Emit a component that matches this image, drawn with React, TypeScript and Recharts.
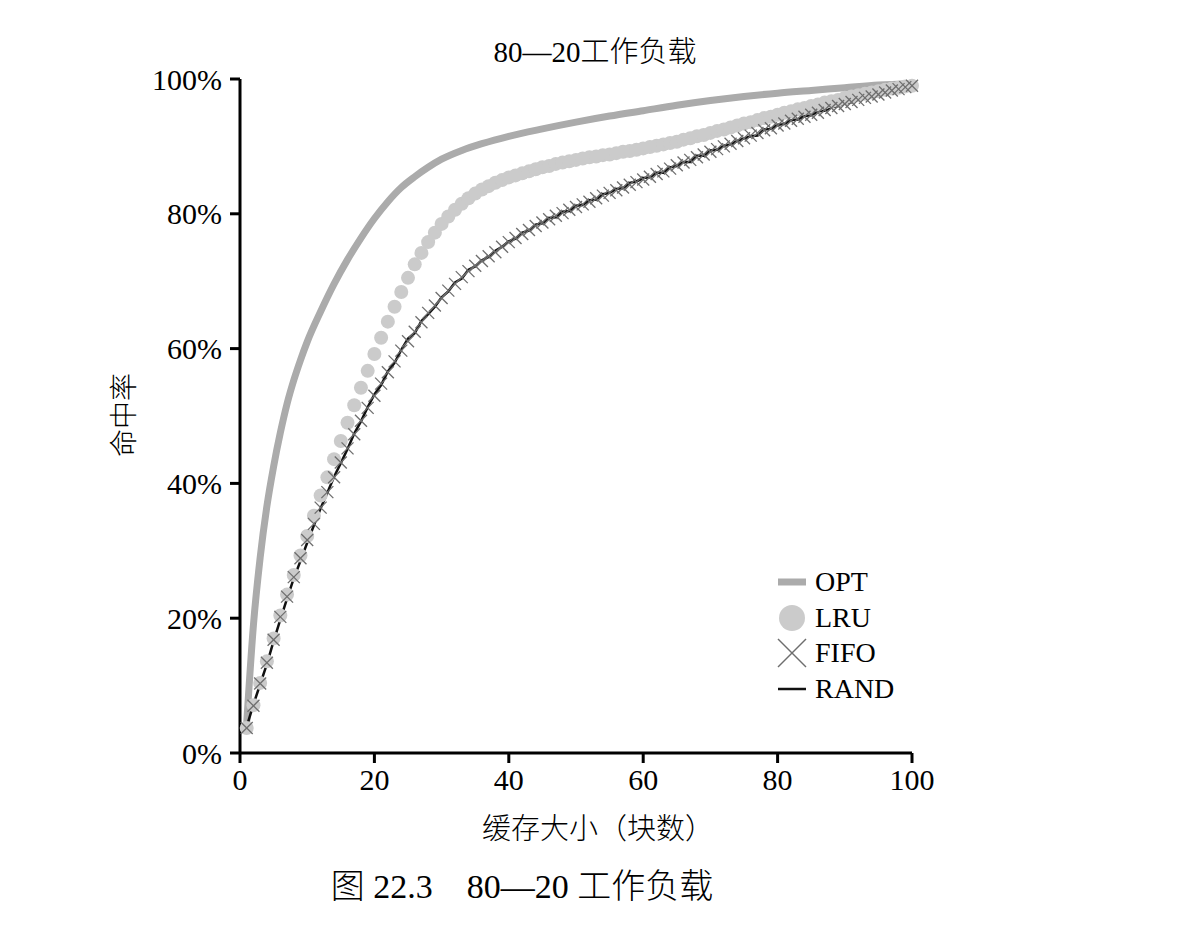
import React from 'react';
import { ComposedChart, Line, XAxis, YAxis } from 'recharts';

// cache size (blocks) 1..100
const cacheSizes = Array.from({ length: 100 }, (_, i) => i + 1);

const optSizes = [1, 2, 3, 4, 5, 6, 7, 8, 9, 10, 12, 14, 16, 18, 20, 22, 24, 26, 28, 30, 33, 36, 40, 45, 50, 55, 60, 65, 70, 75, 80, 85, 90, 95, 100];
const optHit = [4.5, 19, 29, 36.6, 42.5, 47.5, 51.8, 55.3, 58.3, 61, 65.5, 69.6, 73.2, 76.4, 79.3, 81.8, 83.9, 85.5, 86.9, 88.1, 89.4, 90.4, 91.5, 92.6, 93.6, 94.5, 95.3, 96.1, 96.8, 97.4, 97.9, 98.3, 98.7, 99.1, 99.3];

const lruHit = [
  3.7, 7.1, 10.4, 13.6, 17, 20.4, 23.5, 26.4, 29.3, 32.2,
  35.2, 38.2, 40.9, 43.6, 46.3, 49, 51.6, 54.2, 56.7, 59.2,
  61.6, 64, 66.2, 68.4, 70.5, 72.5, 74.2, 75.8, 77.2, 78.5,
  79.6, 80.6, 81.5, 82.3, 83, 83.6, 84.1, 84.6, 85, 85.4,
  85.7, 86, 86.3, 86.6, 86.9, 87.1, 87.4, 87.6, 87.8, 88,
  88.2, 88.4, 88.5, 88.7, 88.8, 89, 89.2, 89.3, 89.5, 89.7,
  89.9, 90.1, 90.3, 90.5, 90.7, 91, 91.2, 91.5, 91.7, 92,
  92.3, 92.5, 92.8, 93.1, 93.4, 93.6, 93.9, 94.2, 94.4, 94.7,
  95, 95.2, 95.5, 95.7, 96, 96.2, 96.5, 96.7, 96.9, 97.2,
  97.4, 97.6, 97.8, 98, 98.2, 98.4, 98.6, 98.7, 98.9, 99,
];

const fifoHit = [
  3.7, 7, 10.3, 13.4, 16.8, 20.2, 23.2, 26.1, 28.9, 31.6,
  34, 36.4, 38.7, 40.9, 43.1, 45.2, 47.3, 49.3, 51.2, 53,
  54.8, 56.5, 58.1, 59.7, 61.1, 62.5, 63.9, 65.3, 66.4, 67.5,
  68.6, 69.6, 70.6, 71.5, 72.3, 73, 73.7, 74.3, 75.1, 75.8,
  76.4, 77, 77.6, 78.2, 78.7, 79.2, 79.7, 80.1, 80.6, 81,
  81.4, 81.8, 82.3, 82.7, 83.1, 83.5, 83.9, 84.3, 84.7, 85.1,
  85.5, 85.9, 86.3, 86.7, 87.2, 87.6, 88, 88.4, 88.8, 89.2,
  89.6, 90, 90.4, 90.8, 91.2, 91.6, 92, 92.4, 92.7, 93.1,
  93.4, 93.8, 94.1, 94.4, 94.7, 95, 95.4, 95.7, 96, 96.3,
  96.6, 96.9, 97.2, 97.4, 97.7, 98, 98.3, 98.5, 98.8, 99,
];

const randHit = [
  3.9, 7.2, 10.2, 13.2, 16.6, 19.8, 22.9, 25.9, 28.5, 31.2,
  33.8, 36.3, 38.6, 41, 43, 45.1, 47.4, 49.2, 51.3, 53.2,
  54.6, 56.6, 57.9, 59.8, 61.5, 62.3, 64.1, 65.1, 66.2, 67.6,
  68.5, 69.8, 70.4, 71.7, 72.2, 73.1, 73.6, 74.5, 75.1, 75.9,
  76.3, 77.2, 77.5, 78.4, 78.6, 79.4, 79.5, 80.3, 80.4, 81.2,
  81.3, 82, 82.1, 82.9, 83.1, 83.7, 83.8, 84.6, 84.8, 85.3,
  85.4, 86.1, 86.1, 86.9, 87.1, 87.7, 87.7, 88.6, 88.6, 89.4,
  89.5, 90.1, 90.3, 90.8, 91.2, 91.5, 91.6, 92.5, 92.6, 93.2,
  93.3, 93.9, 94, 94.5, 94.6, 95.2, 95.3, 95.8, 96, 96.4,
  96.5, 97.1, 97.2, 97.5, 97.8, 98.1, 98.2, 98.6, 98.7, 99,
];

const xTicks = [0, 20, 40, 60, 80, 100];
const yTicks = [0, 20, 40, 60, 80, 100];

const seriesNames = ['OPT', 'LRU', 'FIFO', 'RAND'];

const FONT = "'Liberation Serif', 'Times New Roman', 'Noto Sans CJK SC', serif";
const OPT_COLOR = '#ababab';
const LRU_COLOR = '#cbcbcb';
const FIFO_COLOR = '#6e6e6e';
const RAND_COLOR = '#111111';

const data = cacheSizes.map((x, i) => {
  const k = optSizes.indexOf(x);
  return {
    x,
    opt: k >= 0 ? optHit[k] : undefined,
    lru: lruHit[i],
    fifo: fifoHit[i],
    rand: randHit[i],
  };
});

const Cross = (props: any) => {
  const { cx, cy, index } = props;
  if (cx == null || cy == null) return <g key={`c-${index}`} />;
  const s = 6;
  return (
    <g key={`c-${index}`}>
      <line x1={cx - s} y1={cy - s} x2={cx + s} y2={cy + s} stroke={FIFO_COLOR} strokeWidth={1.3} />
      <line x1={cx - s} y1={cy + s} x2={cx + s} y2={cy - s} stroke={FIFO_COLOR} strokeWidth={1.3} />
    </g>
  );
};

const LegendIcon = ({ name }: { name: string }) => {
  if (name === 'OPT') {
    return <svg width={30} height={30}><line x1={1} y1={15} x2={29} y2={15} stroke={OPT_COLOR} strokeWidth={7} /></svg>;
  }
  if (name === 'LRU') {
    return <svg width={30} height={30}><circle cx={15} cy={15} r={13} fill={LRU_COLOR} /></svg>;
  }
  if (name === 'FIFO') {
    return (
      <svg width={30} height={30}>
        <line x1={1} y1={1} x2={29} y2={29} stroke={FIFO_COLOR} strokeWidth={1.5} />
        <line x1={1} y1={29} x2={29} y2={1} stroke={FIFO_COLOR} strokeWidth={1.5} />
      </svg>
    );
  }
  return <svg width={30} height={30}><line x1={1} y1={15} x2={29} y2={15} stroke={RAND_COLOR} strokeWidth={2.5} /></svg>;
};

const ChartLegend = () => (
  <div style={{ position: 'absolute', left: 769, top: 556, fontFamily: FONT, fontSize: 28, color: '#000' }}>
    {seriesNames.map((name) => (
      <div key={name} style={{ display: 'flex', alignItems: 'center', height: 35.7 }}>
        <LegendIcon name={name} />
        <span style={{ marginLeft: 8, lineHeight: 1 }}>{name}</span>
      </div>
    ))}
  </div>
);

const App = () => {
  return (
    <div style={{ position: 'relative', width: 1166, height: 910, fontFamily: FONT }}>
      <div style={{ position: 'absolute', left: 587, top: 30, transform: 'translateX(-50%)', fontSize: 29, lineHeight: 1, whiteSpace: 'nowrap', fontWeight: 300 }}>
        80—20工作负载
      </div>

      <ComposedChart
        width={1166}
        height={860}
        data={data}
        margin={{ top: 71, right: 262, left: 152, bottom: 65 }}
      >
        <XAxis
          dataKey="x"
          type="number"
          domain={[0, 100]}
          ticks={xTicks}
          axisLine={{ stroke: '#000', strokeWidth: 3 }}
          tickLine={{ stroke: '#000', strokeWidth: 3 }}
          tickSize={10}
          tickMargin={6}
          height={50}
          tick={{ fill: '#000', fontSize: 30, fontFamily: FONT }}
        />
        <YAxis
          type="number"
          domain={[0, 100]}
          ticks={yTicks}
          tickFormatter={(v: number) => `${v}%`}
          axisLine={{ stroke: '#000', strokeWidth: 3 }}
          tickLine={{ stroke: '#000', strokeWidth: 3 }}
          tickSize={10}
          tickMargin={8}
          width={80}
          tick={{ fill: '#000', fontSize: 30, fontFamily: FONT }}
        />
        <Line
          dataKey="opt"
          name="OPT"
          type="monotone"
          connectNulls
          stroke={OPT_COLOR}
          strokeWidth={7}
          dot={false}
          isAnimationActive={false}
        />
        <Line
          dataKey="lru"
          name="LRU"
          stroke="none"
          dot={{ r: 7, fill: LRU_COLOR, stroke: 'none' }}
          isAnimationActive={false}
        />
        <Line
          dataKey="fifo"
          name="FIFO"
          stroke="none"
          dot={Cross}
          isAnimationActive={false}
        />
        <Line
          dataKey="rand"
          name="RAND"
          type="linear"
          stroke={RAND_COLOR}
          strokeWidth={2.5}
          dot={false}
          isAnimationActive={false}
        />
      </ComposedChart>

      <ChartLegend />

      <div style={{ position: 'absolute', left: 590, top: 807, transform: 'translateX(-50%)', fontSize: 29, lineHeight: 1, whiteSpace: 'nowrap', fontWeight: 300 }}>
        缓存大小（块数）
      </div>
      <div style={{ position: 'absolute', left: 117, top: 407, transform: 'translate(-50%, -50%) rotate(-90deg)', fontSize: 28, lineHeight: 1, whiteSpace: 'nowrap', fontWeight: 300 }}>
        命中率
      </div>
      <div style={{ position: 'absolute', left: 514, top: 862, transform: 'translateX(-50%)', fontSize: 34, lineHeight: 1, whiteSpace: 'nowrap', fontWeight: 300 }}>
        图 22.3　80—20 工作负载
      </div>
    </div>
  );
};

export default App;
